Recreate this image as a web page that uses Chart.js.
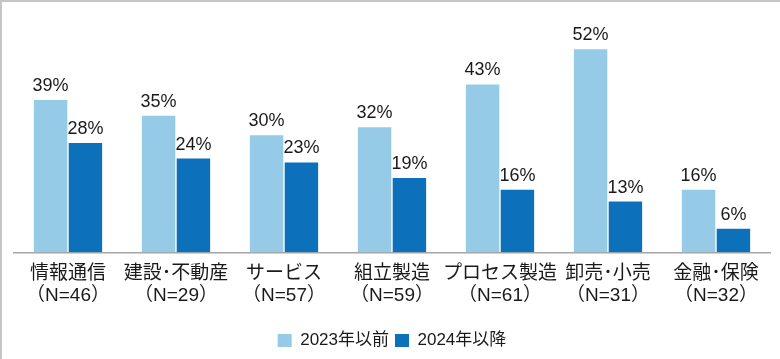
<!DOCTYPE html>
<html>
<head>
<meta charset="utf-8">
<script src="https://cdn.jsdelivr.net/npm/chart.js@4.4.1/dist/chart.umd.min.js"></script>
<style>
  html, body { margin: 0; padding: 0; background: #fff; }
  #wrap { position: relative; width: 780px; height: 359px; overflow: hidden; }
  #bt { position: absolute; left: 0; top: 0; width: 780px; height: 2px; background: #c6c6c6; }
  #bl { position: absolute; left: 0; top: 0; width: 2px; height: 359px; background: #c6c6c6; }
  canvas { position: absolute; left: 0; top: 0; }
</style>
</head>
<body>
<div id="wrap">
  <canvas id="c" width="780" height="359"></canvas>
  <div id="bt"></div>
  <div id="bl"></div>
</div>
<script>
const categories = [
  ["情報通信", "（N=46）"],
  ["建設･不動産", "（N=29）"],
  ["サービス", "（N=57）"],
  ["組立製造", "（N=59）"],
  ["プロセス製造", "（N=61）"],
  ["卸売･小売", "（N=31）"],
  ["金融･保険", "（N=32）"]
];
const seriesNames = ["2023年以前", "2024年以降"];
const values2023 = [39, 35, 30, 32, 43, 52, 16];
const values2024 = [28, 24, 23, 19, 16, 13, 6];

const FONT = "'Liberation Sans', Arial, 'Noto Sans CJK JP', sans-serif";

const valueLabels = {
  id: 'valueLabels',
  afterDatasetsDraw(chart) {
    const ctx = chart.ctx;
    ctx.save();
    ctx.font = "18px " + FONT;
    ctx.fillStyle = '#1a1a1a';
    ctx.textAlign = 'center';
    ctx.textBaseline = 'alphabetic';
    chart.data.datasets.forEach((ds, di) => {
      const meta = chart.getDatasetMeta(di);
      meta.data.forEach((bar, i) => {
        ctx.fillText(ds.data[i] + '%', bar.x, bar.y - 9);
      });
    });
    ctx.restore();
  }
};

new Chart(document.getElementById('c'), {
  type: 'bar',
  data: {
    labels: categories,
    datasets: [
      { label: seriesNames[0], data: values2023, backgroundColor: '#96cbe7' },
      { label: seriesNames[1], data: values2024, backgroundColor: '#0c70bb' }
    ]
  },
  options: {
    responsive: false,
    animation: false,
    devicePixelRatio: 1,
    layout: { padding: { left: 14, right: 10, top: 18, bottom: 0 } },
    datasets: { bar: { categoryPercentage: 0.645, barPercentage: 0.96 } },
    scales: {
      x: {
        grid: { display: false, drawTicks: false },
        border: { display: true, color: '#a6a6a6', width: 1.5 },
        afterFit(scale) { scale.height += 8; },
        ticks: {
          color: '#1a1a1a',
          padding: 11,
          maxRotation: 0,
          autoSkip: false,
          font: { family: FONT, size: 19, lineHeight: 1.15 }
        }
      },
      y: { display: false, min: 0, max: 60 }
    },
    plugins: {
      legend: {
        position: 'bottom',
        labels: {
          boxWidth: 14,
          boxHeight: 13,
          padding: 6,
          color: '#1a1a1a',
          font: { family: FONT, size: 17 }
        }
      },
      tooltip: { enabled: false }
    }
  },
  plugins: [valueLabels]
});
</script>
</body>
</html>
